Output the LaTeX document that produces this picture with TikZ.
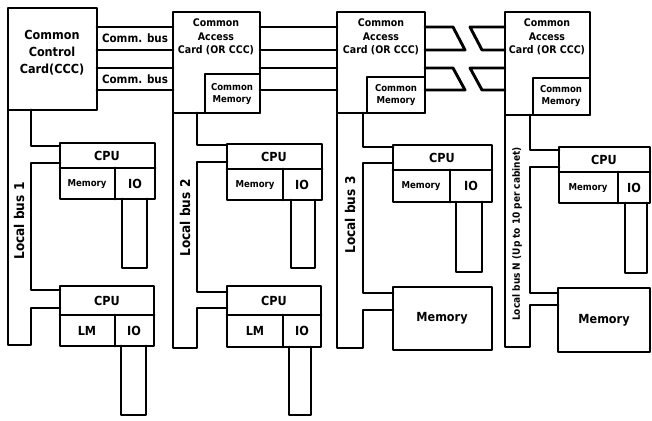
\documentclass[tikz,border=0pt]{standalone}
\usepackage{fontspec}
\setsansfont{DejaVu Sans Condensed}
\begin{document}
\begin{tikzpicture}[x=1pt, y=-1pt, line width=2.9pt, line cap=round, line join=round,
  txt/.style={font=\sffamily\bfseries\fontsize{12.5}{14}\selectfont, inner sep=0pt, align=center},
  cardtxt/.style={txt, font=\sffamily\bfseries\fontsize{10.5}{13.5}\selectfont},
  smalltxt/.style={txt, font=\sffamily\bfseries\fontsize{9.5}{12}\selectfont},
  bustxt/.style={txt, rotate=90, font=\sffamily\bfseries\fontsize{13.5}{15}\selectfont}]
  \useasboundingbox (0,0) rectangle (652,420);
  % cards
  \draw (8,8) rectangle (97,110);
  \node[cardtxt, font=\sffamily\bfseries\fontsize{12.5}{17}\selectfont] (ccc) at (52,53) {Common\\Control\\Card(CCC)};
  \draw (173,12) rectangle (260,113);
  \draw (205,74) rectangle (260,113);
  \node[cardtxt] (cac1) at (216,37) {Common\\Access\\Card (OR CCC)};
  \node[smalltxt] (cmem1) at (232,94) {Common\\Memory};
  \draw (337,12) rectangle (425,113);
  \draw (367,77) rectangle (425,113);
  \node[cardtxt] (cac2) at (381,37) {Common\\Access\\Card (OR CCC)};
  \node[smalltxt] (cmem2) at (396,95) {Common\\Memory};
  \draw (505,12) rectangle (590,115);
  \draw (533,78) rectangle (590,115);
  \node[cardtxt] (cac3) at (547,37) {Common\\Access\\Card (OR CCC)};
  \node[smalltxt] (cmem3) at (561,96) {Common\\Memory};
  % comm buses
  \draw (97,27) -- (173,27);
  \draw (97,50) -- (173,50);
  \draw (97,68) -- (173,68);
  \draw (97,90) -- (173,90);
  \node[txt, font=\sffamily\bfseries\fontsize{11.5}{13}\selectfont] (cbus1) at (135,38.5) {Comm. bus};
  \node[txt, font=\sffamily\bfseries\fontsize{11.5}{13}\selectfont] (cbus2) at (135,79) {Comm. bus};
  \draw (260,27) -- (337,27);
  \draw (260,50) -- (337,50);
  \draw (260,68) -- (337,68);
  \draw (260,90) -- (337,90);
  \draw (425,27) -- (453,27) -- (465,50) -- (425,50);
  \draw (505,27) -- (470,27) -- (482,50) -- (505,50);
  \draw (425,68) -- (453,68) -- (465,90) -- (425,90);
  \draw (505,68) -- (470,68) -- (482,90) -- (505,90);
  % local bus 1
  \draw (8,110) -- (8,345) -- (31,345) -- (31,308) -- (60,308);
  \draw (60,290) -- (31,290) -- (31,163) -- (60,163);
  \draw (60,146) -- (31,146) -- (31,110);
  \node[bustxt] (lb1) at (19,221) {Local bus 1};
  % local bus 2
  \draw (173,113) -- (173,348) -- (197,348) -- (197,308) -- (227,308);
  \draw (227,292) -- (197,292) -- (197,162) -- (227,162);
  \draw (227,145) -- (197,145) -- (197,113);
  \node[bustxt] (lb2) at (185,218) {Local bus 2};
  % local bus 3
  \draw (337,113) -- (337,348) -- (363,348) -- (363,310) -- (393,310);
  \draw (393,293) -- (363,293) -- (363,163) -- (393,163);
  \draw (393,147) -- (363,147) -- (363,113);
  \node[bustxt] (lb3) at (350,215) {Local bus 3};
  % local bus N
  \draw (505,115) -- (505,347) -- (530,347) -- (530,305) -- (558,305);
  \draw (558,293) -- (530,293) -- (530,167) -- (559,167);
  \draw (559,150) -- (530,150) -- (530,115);
  \node[bustxt, font=\sffamily\bfseries\fontsize{10}{11}\selectfont] (lbn) at (517,234) {Local bus N (Up to 10 per cabinet)};
  % cpu 1
  \draw (60,143) rectangle (155,199);
  \draw (60,168) -- (155,168);
  \draw (115,168) -- (115,199);
  \draw (122,199) -- (122,268) -- (147,268) -- (147,199);
  \node[txt] (cpu1) at (107,155.5) {CPU};
  \node[smalltxt] (mem1) at (87,184) {Memory};
  \node[txt] (io1) at (135,184) {IO};
  % cpu 2
  \draw (60,286) rectangle (154,346);
  \draw (60,315) -- (154,315);
  \draw (115,315) -- (115,346);
  \draw (121,346) -- (121,415) -- (146,415) -- (146,346);
  \node[txt] (cpu2) at (107,300.5) {CPU};
  \node[txt] (lm2) at (87,331) {LM};
  \node[txt] (io2) at (134,331) {IO};
  % cpu 3
  \draw (227,144) rectangle (322,200);
  \draw (227,169) -- (322,169);
  \draw (283,169) -- (283,200);
  \draw (291,200) -- (291,268) -- (315,268) -- (315,200);
  \node[txt] (cpu3) at (274,156.5) {CPU};
  \node[smalltxt] (mem3) at (255,185) {Memory};
  \node[txt] (io3) at (302,185) {IO};
  % cpu 4
  \draw (227,286) rectangle (321,347);
  \draw (227,315) -- (321,315);
  \draw (283,315) -- (283,347);
  \draw (289,347) -- (289,415) -- (311,415) -- (311,347);
  \node[txt] (cpu4) at (274,300.5) {CPU};
  \node[txt] (lm4) at (255,331) {LM};
  \node[txt] (io4) at (302,331) {IO};
  % cpu 5 and memory
  \draw (393,145) rectangle (492,202);
  \draw (393,170) -- (492,170);
  \draw (450,170) -- (450,202);
  \draw (456,202) -- (456,272) -- (482,272) -- (482,202);
  \node[txt] (cpu5) at (442,157.5) {CPU};
  \node[smalltxt] (mem5) at (421,186) {Memory};
  \node[txt] (io5) at (471,186) {IO};
  \draw (393,287) rectangle (492,350);
  \node[txt] (lmem5) at (442,318) {Memory};
  % cpu 6 and memory
  \draw (559,147) rectangle (650,203);
  \draw (559,172) -- (650,172);
  \draw (618,172) -- (618,203);
  \draw (625,203) -- (625,273) -- (647,273) -- (647,203);
  \node[txt] (cpu6) at (604,159.5) {CPU};
  \node[smalltxt] (mem6) at (588,188) {Memory};
  \node[txt] (io6) at (634,188) {IO};
  \draw (558,288) rectangle (650,352);
  \node[txt] (lmem6) at (604,320) {Memory};
\end{tikzpicture}
\end{document}
